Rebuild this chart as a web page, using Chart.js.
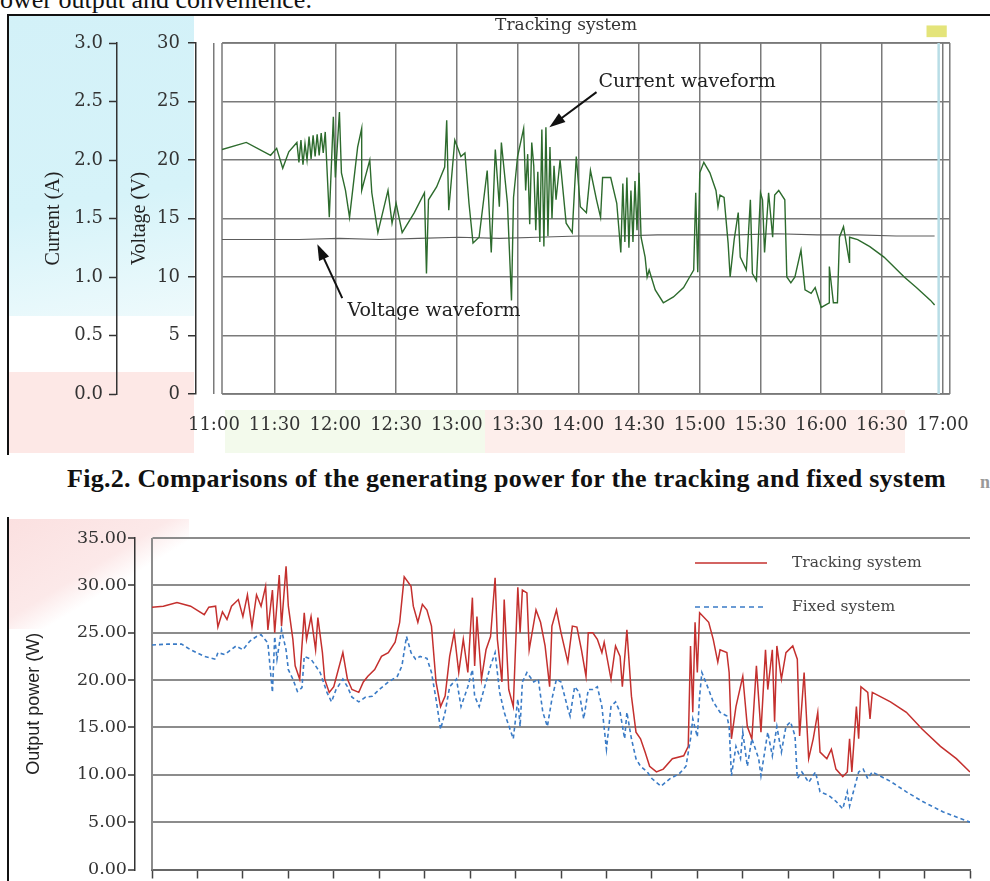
<!DOCTYPE html>
<html>
<head>
<meta charset="utf-8">
<title>Tracking system</title>
<script src="https://cdn.jsdelivr.net/npm/chart.js@4.4.1/dist/chart.umd.min.js"></script>
<style>
  html, body { margin: 0; padding: 0; background: #fff; overflow: hidden; }
  body { position: relative; width: 990px; height: 881px; font-family: "Liberation Serif", "Times New Roman", serif; }
  .patch { position: absolute; }
  #lead { position: absolute; left: 0; top: -13px; font-size: 26px; line-height: 26px; white-space: nowrap; color: #111; }
  #box1 { position: absolute; left: 7px; top: 14px; width: 983px; height: 439px; border-left: 2px solid #111; border-top: 2px solid #111; }
  #box2 { position: absolute; left: 7px; top: 517px; width: 983px; height: 364px; border-left: 2px solid #111; }
  #caption { position: absolute; left: 67px; top: 466px; font-size: 26px; line-height: 26px; letter-spacing: 0.28px; font-weight: bold; white-space: nowrap; color: #111; }
  #edge { position: absolute; left: 980px; top: 472px; font-size: 18px; font-weight: bold; color: #999; }
  canvas { position: absolute; }
  #top { left: 9px; top: 16px; }
  #bottom { left: 9px; top: 518px; }
</style>
</head>
<body>
<div class="patch" style="left:9px;top:16px;width:185px;height:300px;background:linear-gradient(170deg,#d3f1f8 0%,#d6f3f9 60%,#eefafc 100%);"></div>
<div class="patch" style="left:9px;top:372px;width:185px;height:81px;background:#fde8e6;"></div>
<div class="patch" style="left:225px;top:410px;width:260px;height:43px;background:#f3faec;"></div>
<div class="patch" style="left:485px;top:410px;width:420px;height:43px;background:#fdeeeb;"></div>
<div class="patch" style="left:9px;top:519px;width:180px;height:110px;background:linear-gradient(to bottom right,#fbe0e0 0%,#fce9e9 45%,rgba(255,255,255,0) 60%);"></div>

<div id="lead">ower output and convenience.</div>
<div id="box1"></div>
<div id="box2"></div>
<div id="caption">Fig.2. Comparisons of the generating power for the tracking and fixed system</div>
<div id="edge">n:</div>

<canvas id="top" width="981" height="436"></canvas>
<canvas id="bottom" width="981" height="363"></canvas>

<script>
// ---- upper panel: tracking system current / voltage ----
const clockTicks = ['11:00', '11:30', '12:00', '12:30', '13:00', '13:30', '14:00',
  '14:30', '15:00', '15:30', '16:00', '16:30', '17:00'];

const currentTime = [
  '11:04', '11:16', '11:28', '11:31', '11:34', '11:37', '11:41', '11:42', '11:43', '11:44',
  '11:45', '11:46', '11:47', '11:48', '11:49', '11:50', '11:51', '11:52', '11:53', '11:54',
  '11:55', '11:57', '11:59', '12:00', '12:02', '12:03', '12:05', '12:07', '12:11', '12:13',
  '12:13', '12:17', '12:18', '12:21', '12:26', '12:28', '12:30', '12:33', '12:39', '12:44',
  '12:45', '12:46', '12:50', '12:54', '12:55', '12:56', '12:59', '13:02', '13:04', '13:06',
  '13:08', '13:11', '13:15', '13:17', '13:19', '13:21', '13:22', '13:25', '13:27', '13:28',
  '13:30', '13:33', '13:34', '13:35', '13:36', '13:37', '13:38', '13:39', '13:40', '13:41',
  '13:42', '13:43', '13:44', '13:45', '13:46', '13:47', '13:48', '13:49', '13:51', '13:54',
  '13:57', '13:59', '14:01', '14:04', '14:06', '14:09', '14:11', '14:12', '14:16', '14:19',
  '14:21', '14:22', '14:23', '14:24', '14:25', '14:26', '14:27', '14:28', '14:29', '14:30',
  '14:31', '14:33', '14:34', '14:35', '14:38', '14:42', '14:47', '14:52', '14:55', '14:57',
  '14:58', '14:59', '15:00', '15:02', '15:05', '15:08', '15:09', '15:10', '15:12', '15:14',
  '15:15', '15:17', '15:19', '15:20', '15:23', '15:25', '15:26', '15:28', '15:30', '15:31',
  '15:32', '15:34', '15:36', '15:37', '15:39', '15:42', '15:43', '15:45', '15:47', '15:50',
  '15:52', '15:55', '15:57', '16:00', '16:04', '16:04', '16:06', '16:08', '16:09', '16:11',
  '16:14', '16:14', '16:18', '16:24', '16:31', '16:34', '16:41', '16:47', '16:54', '16:56'];
const currentA = [
  2.09, 2.15, 2.04, 2.10, 1.93, 2.07, 2.15, 1.98, 2.17, 1.96,
  2.14, 2.00, 2.20, 2.01, 2.21, 2.03, 2.22, 2.04, 2.23, 2.06,
  2.24, 1.51, 2.37, 1.85, 2.41, 1.89, 1.74, 1.51, 2.11, 2.27,
  1.74, 2.00, 1.72, 1.38, 1.74, 1.46, 1.63, 1.38, 1.55, 1.72,
  1.03, 1.66, 1.77, 1.94, 2.34, 1.57, 2.17, 2.03, 2.06, 1.63,
  1.29, 1.34, 1.91, 1.21, 2.09, 1.60, 2.15, 1.63, 0.80, 1.68,
  2.03, 2.27, 1.74, 2.05, 1.45, 2.15, 1.95, 1.40, 1.90, 1.30,
  2.26, 1.26, 2.28, 1.35, 2.11, 1.50, 1.95, 1.66, 2.00, 1.46,
  1.38, 2.03, 1.60, 1.55, 1.91, 1.66, 1.51, 1.85, 1.85, 1.63,
  1.21, 1.80, 1.30, 1.85, 1.25, 1.74, 1.30, 1.82, 1.40, 1.89,
  1.34, 1.17, 1.00, 1.06, 0.89, 0.78, 0.83, 0.91, 1.00, 1.06,
  1.72, 1.04, 1.89, 1.98, 1.89, 1.74, 1.60, 1.70, 1.68, 1.29,
  1.00, 1.32, 1.55, 1.17, 1.06, 1.66, 1.03, 0.97, 1.72, 1.66,
  1.21, 1.72, 1.34, 1.70, 1.74, 1.66, 1.00, 0.95, 1.00, 1.23,
  0.89, 0.86, 0.91, 0.74, 0.78, 1.09, 0.78, 0.78, 1.34, 1.43,
  1.12, 1.34, 1.32, 1.26, 1.17, 1.12, 1.00, 0.91, 0.80, 0.76];

const voltTime = ['11:04', '11:23', '11:42', '12:02', '12:22', '12:41', '13:01', '13:21', '13:40', '14:00',
  '14:20', '14:39', '14:59', '15:19', '15:38', '15:58', '16:18', '16:37', '16:56'];
const voltV = [13.2, 13.2, 13.2, 13.3, 13.2, 13.3, 13.4, 13.3, 13.4, 13.5,
  13.5, 13.6, 13.6, 13.6, 13.7, 13.6, 13.6, 13.5, 13.5];

// ---- lower panel: output power, tracking vs fixed ----
const trackTime = [
  '11:00', '11:05', '11:11', '11:17', '11:23', '11:25', '11:28', '11:29', '11:31', '11:33',
  '11:35', '11:38', '11:40', '11:42', '11:44', '11:46', '11:48', '11:50', '11:51', '11:53',
  '11:54', '11:56', '11:57', '11:59', '12:00', '12:02', '12:03', '12:05', '12:07', '12:08',
  '12:10', '12:12', '12:13', '12:15', '12:16', '12:18', '12:20', '12:24', '12:26', '12:28',
  '12:31', '12:33', '12:35', '12:38', '12:41', '12:44', '12:47', '12:49', '12:51', '12:54',
  '12:55', '12:57', '12:59', '13:01', '13:03', '13:05', '13:07', '13:09', '13:11', '13:13',
  '13:15', '13:17', '13:19', '13:21', '13:22', '13:23', '13:25', '13:27', '13:29', '13:31',
  '13:32', '13:34', '13:35', '13:37', '13:39', '13:41', '13:42', '13:43', '13:45', '13:46',
  '13:49', '13:51', '13:53', '13:55', '13:56', '13:58', '14:00', '14:03', '14:05', '14:07',
  '14:09', '14:11', '14:12', '14:14', '14:16', '14:18', '14:19', '14:22', '14:24', '14:26',
  '14:27', '14:29', '14:31', '14:33', '14:35', '14:37', '14:39', '14:42', '14:45', '14:49',
  '14:54', '14:56', '14:57', '14:58', '14:59', '15:00', '15:01', '15:05', '15:07', '15:09',
  '15:10', '15:13', '15:14', '15:15', '15:17', '15:20', '15:22', '15:24', '15:26', '15:28',
  '15:30', '15:31', '15:33', '15:34', '15:35', '15:37', '15:39', '15:42', '15:44', '15:45',
  '15:47', '15:49', '15:51', '15:53', '15:54', '15:57', '15:59', '16:01', '16:04', '16:06',
  '16:07', '16:08', '16:10', '16:11', '16:12', '16:15', '16:16', '16:17', '16:25', '16:32',
  '16:39', '16:47', '16:54', '17:00'];
const trackW = [
  27.7, 27.8, 28.2, 27.8, 26.9, 27.7, 27.8, 25.6, 27.2, 26.4,
  27.8, 28.5, 26.7, 29.0, 25.6, 29.0, 27.8, 29.9, 25.3, 29.5,
  25.0, 31.1, 25.7, 32.0, 27.8, 24.3, 21.5, 20.1, 27.1, 24.3,
  26.7, 23.2, 26.6, 22.9, 20.1, 18.7, 19.3, 22.9, 20.1, 19.0,
  18.7, 19.8, 20.4, 21.1, 22.5, 22.9, 24.0, 26.1, 30.9, 29.9,
  27.8, 26.1, 28.0, 27.4, 25.7, 19.8, 17.2, 18.3, 22.5, 25.0,
  20.8, 24.3, 20.8, 28.7, 21.5, 26.7, 20.1, 23.2, 24.6, 30.8,
  24.3, 19.8, 28.5, 19.0, 17.2, 29.8, 25.0, 29.5, 29.2, 23.2,
  27.4, 26.1, 23.6, 19.3, 25.7, 27.4, 25.0, 21.9, 25.7, 25.6,
  23.2, 20.4, 25.0, 25.0, 24.3, 22.9, 24.0, 20.1, 23.6, 22.5,
  19.3, 25.3, 18.3, 14.5, 13.8, 12.4, 10.9, 10.3, 10.6, 11.7,
  12.0, 13.0, 23.6, 16.6, 26.1, 20.8, 27.1, 26.1, 24.3, 21.9,
  23.2, 22.9, 20.8, 13.8, 17.2, 20.4, 15.1, 13.8, 21.5, 14.5,
  23.2, 19.0, 23.2, 15.6, 23.6, 20.1, 22.9, 23.6, 22.2, 14.1,
  20.8, 11.7, 13.8, 16.6, 12.4, 11.7, 12.7, 10.6, 9.8, 10.3,
  13.8, 10.3, 17.2, 13.8, 19.3, 18.7, 15.9, 18.7, 17.7, 16.6,
  14.8, 13.0, 11.7, 10.3];

const fixedTime = [
  '11:00', '11:07', '11:13', '11:17', '11:23', '11:28', '11:29', '11:32', '11:37', '11:40',
  '11:43', '11:46', '11:48', '11:51', '11:53', '11:54', '11:55', '11:57', '11:59', '12:00',
  '12:02', '12:04', '12:06', '12:07', '12:10', '12:12', '12:14', '12:17', '12:19', '12:21',
  '12:24', '12:26', '12:28', '12:31', '12:34', '12:37', '12:40', '12:44', '12:48', '12:50',
  '12:52', '12:54', '12:56', '12:58', '13:01', '13:03', '13:05', '13:07', '13:09', '13:11',
  '13:14', '13:16', '13:19', '13:21', '13:22', '13:24', '13:27', '13:29', '13:31', '13:33',
  '13:35', '13:38', '13:39', '13:41', '13:42', '13:43', '13:45', '13:48', '13:50', '13:52',
  '13:54', '13:56', '13:58', '14:00', '14:03', '14:04', '14:06', '14:08', '14:10', '14:12',
  '14:14', '14:16', '14:18', '14:20', '14:22', '14:24', '14:26', '14:28', '14:29', '14:31',
  '14:33', '14:35', '14:38', '14:40', '14:44', '14:48', '14:52', '14:55', '14:57', '14:58',
  '15:00', '15:01', '15:02', '15:05', '15:07', '15:10', '15:13', '15:14', '15:15', '15:17',
  '15:19', '15:20', '15:22', '15:24', '15:27', '15:28', '15:31', '15:33', '15:35', '15:37',
  '15:39', '15:41', '15:43', '15:44', '15:46', '15:49', '15:52', '15:54', '15:58', '16:01',
  '16:04', '16:06', '16:07', '16:09', '16:11', '16:13', '16:15', '16:17', '16:25', '16:32',
  '16:39', '16:48', '17:00'];
const fixedW = [
  23.7, 23.8, 23.8, 23.2, 22.5, 22.2, 22.9, 22.7, 23.6, 23.2,
  24.1, 24.6, 24.8, 23.9, 18.7, 24.6, 22.2, 25.3, 23.2, 21.1,
  20.1, 18.8, 19.2, 22.5, 22.2, 21.5, 20.8, 18.7, 17.7, 19.0,
  20.1, 19.3, 18.2, 17.7, 18.2, 18.3, 19.0, 19.8, 20.4, 21.5,
  24.6, 22.9, 22.2, 22.5, 22.3, 20.8, 18.0, 14.8, 16.6, 19.3,
  20.1, 17.2, 19.3, 21.1, 18.3, 17.2, 19.8, 21.5, 22.9, 18.7,
  16.6, 14.5, 13.8, 18.0, 15.1, 19.8, 20.8, 19.8, 20.1, 16.6,
  15.1, 18.0, 20.1, 19.8, 17.0, 16.2, 19.3, 18.7, 15.9, 19.0,
  19.0, 19.3, 17.2, 12.7, 17.2, 17.7, 16.6, 13.8, 16.6, 13.8,
  11.7, 10.9, 10.3, 9.6, 8.8, 9.6, 10.1, 10.9, 13.8, 15.9,
  14.0, 18.3, 20.8, 19.0, 17.7, 16.6, 16.2, 15.1, 9.9, 13.0,
  11.7, 14.5, 10.9, 13.8, 11.7, 9.9, 14.5, 12.0, 15.1, 12.4,
  15.1, 15.6, 14.1, 9.6, 10.3, 9.2, 10.3, 8.2, 7.8, 7.2,
  6.4, 8.2, 6.7, 8.5, 10.3, 10.6, 9.6, 10.3, 9.3, 8.2,
  7.2, 6.1, 5.0];

const toMin = t => { const [h, m] = t.split(':').map(Number); return (h - 11) * 60 + m; };
const clock = v => `${11 + Math.floor(v / 60)}:${String(v % 60).padStart(2, '0')}`;
const pts = (ts, vs) => ts.map((t, i) => ({ x: toMin(t), y: vs[i] }));

const serif = 'DejaVu Serif';
const times = 'Liberation Serif';

// move an axis line (and its ticks/labels) away from the plot box
const shiftAxes = {
  id: 'shiftAxes',
  afterLayout(chart, args, opts) {
    Object.entries(opts.by || {}).forEach(([id, dx]) => {
      const s = chart.scales[id];
      if (s) s.right += dx;
    });
  }
};

const frame = {
  id: 'frame',
  beforeDatasetsDraw(chart, args, o) {
    const { ctx, chartArea: a } = chart;
    ctx.save();
    ctx.strokeStyle = o.color;
    ctx.lineWidth = o.width;
    ctx.beginPath();
    if (o.sides.includes('l')) { ctx.moveTo(a.left, a.top); ctx.lineTo(a.left, a.bottom); }
    if (o.sides.includes('t')) { ctx.moveTo(a.left, a.top); ctx.lineTo(a.right, a.top); }
    if (o.sides.includes('r')) { ctx.moveTo(a.right, a.top); ctx.lineTo(a.right, a.bottom); }
    if (o.sides.includes('b')) { ctx.moveTo(a.left, a.bottom); ctx.lineTo(a.right, a.bottom); }
    ctx.stroke();
    ctx.restore();
  }
};

// labels, arrows and small marks placed in data units
const notes = {
  id: 'notes',
  beforeDatasetsDraw(chart, args, o) {
    const { ctx, chartArea: a, scales: { x } } = chart;
    ctx.save();
    (o.bands || []).forEach(b => {
      const px = x.getPixelForValue(b.at);
      ctx.strokeStyle = b.color; ctx.lineWidth = b.width;
      ctx.beginPath(); ctx.moveTo(px, a.top); ctx.lineTo(px, a.bottom); ctx.stroke();
    });
    ctx.restore();
  },
  afterDatasetsDraw(chart, args, o) {
    const { ctx, scales: { x, yV } } = chart;
    const px = v => x.getPixelForValue(v), py = v => yV.getPixelForValue(v);
    ctx.save();
    (o.boxes || []).forEach(b => {
      ctx.fillStyle = b.color;
      ctx.fillRect(px(b.x0), py(b.y0), px(b.x1) - px(b.x0), py(b.y1) - py(b.y0));
    });
    (o.texts || []).forEach(t => {
      ctx.font = `${t.size}px ${t.family}`;
      ctx.fillStyle = t.color;
      ctx.textAlign = t.align || 'left';
      ctx.textBaseline = 'alphabetic';
      ctx.fillText(t.text, px(t.x), py(t.y));
    });
    (o.arrows || []).forEach(ar => {
      const x1 = px(ar.from[0]), y1 = py(ar.from[1]);
      const x2 = px(ar.to[0]), y2 = py(ar.to[1]);
      const ang = Math.atan2(y2 - y1, x2 - x1), c = Math.cos(ang), s = Math.sin(ang);
      ctx.strokeStyle = ctx.fillStyle = '#111';
      ctx.lineWidth = 2;
      ctx.beginPath(); ctx.moveTo(x1, y1); ctx.lineTo(x2 - 10 * c, y2 - 10 * s); ctx.stroke();
      ctx.beginPath();
      ctx.moveTo(x2, y2);
      ctx.lineTo(x2 - 16 * c + 5.5 * s, y2 - 16 * s - 5.5 * c);
      ctx.lineTo(x2 - 16 * c - 5.5 * s, y2 - 16 * s + 5.5 * c);
      ctx.closePath(); ctx.fill();
    });
    ctx.restore();
  }
};

const key = {
  id: 'key',
  afterDraw(chart, args, o) {
    const { ctx, chartArea: a } = chart;
    ctx.save();
    ctx.font = `${o.size}px ${o.family}`;
    ctx.textBaseline = 'middle';
    ctx.textAlign = 'left';
    chart.data.datasets.forEach((ds, i) => {
      const y = a.top + o.top + i * o.gap;
      const x0 = a.right - o.right;
      ctx.strokeStyle = ds.borderColor;
      ctx.lineWidth = 1.5;
      ctx.setLineDash(ds.borderDash ? [5, 4] : []);
      ctx.beginPath(); ctx.moveTo(x0, y); ctx.lineTo(x0 + o.sample, y); ctx.stroke();
      ctx.setLineDash([]);
      ctx.fillStyle = o.color;
      ctx.fillText(ds.label, x0 + o.sample + o.space, y);
    });
    ctx.restore();
  }
};

new Chart(document.getElementById('top'), {
  type: 'line',
  data: {
    datasets: [
      { label: 'Current waveform', data: pts(currentTime, currentA), yAxisID: 'yA',
        borderColor: '#2d6b2d', borderWidth: 1.4 },
      { label: 'Voltage waveform', data: pts(voltTime, voltV), yAxisID: 'yV',
        borderColor: '#5c5c5c', borderWidth: 1.1 },
    ],
  },
  options: {
    responsive: false,
    animation: false,
    events: [],
    elements: { point: { radius: 0 }, line: { tension: 0 } },
    layout: { padding: { top: 27, right: 37, left: 0, bottom: 0 } },
    scales: {
      x: {
        type: 'linear', min: 4, max: 363.5,
        afterBuildTicks: s => { s.ticks = clockTicks.map(t => ({ value: toMin(t) })); },
        afterFit: s => { s.height = 58; },
        ticks: { autoSkip: false, maxRotation: 0, padding: 21, color: '#333',
          font: { family: serif, size: 18 }, callback: v => clock(v) },
        grid: { color: '#7a7a7a', lineWidth: 1.5, drawTicks: false },
        border: { display: false },
      },
      yA: {
        position: 'left', weight: 1, min: 0, max: 3,
        afterFit: s => { s.width = 108; },
        ticks: { stepSize: 0.5, padding: 6, color: '#333',
          font: { family: serif, size: 18 }, callback: v => v.toFixed(1) },
        grid: { drawOnChartArea: false, tickLength: 8, tickColor: '#333', tickWidth: 1.5 },
        border: { color: '#333', width: 1.5 },
        title: { display: true, text: 'Current (A)', color: '#222',
          font: { family: times, size: 20 }, padding: { top: 33, bottom: 0 } },
      },
      yV: {
        position: 'left', weight: 0, min: 0, max: 30,
        afterFit: s => { s.width = 105; },
        ticks: { stepSize: 5, padding: 8, color: '#333',
          font: { family: serif, size: 18 } },
        grid: { color: '#7a7a7a', lineWidth: 1.5, tickLength: 8, tickColor: '#333', tickWidth: 1.5 },
        border: { color: '#333', width: 1.5 },
        title: { display: true, text: 'Voltage (V)', color: '#222',
          font: { family: times, size: 20 }, padding: { top: 11, bottom: 0 } },
      },
    },
    plugins: {
      legend: { display: false },
      tooltip: { enabled: false },
      shiftAxes: { by: { yV: -26 } },
      frame: { sides: 'ltrb', color: '#7a7a7a', width: 1.5 },
      notes: {
        bands: [{ at: 358, color: '#b8dde6', width: 2.5 }],
        boxes: [{ x0: 352, y0: 31.5, x1: 362, y1: 30.5, color: '#e4e47a' }],
        texts: [
          { text: 'Tracking system', x: 174, y: 31.1, size: 17, family: serif, color: '#333', align: 'center' },
          { text: 'Current waveform', x: 190, y: 26.2, size: 19, family: serif, color: '#222' },
          { text: 'Voltage waveform', x: 66, y: 6.7, size: 19, family: serif, color: '#222' },
        ],
        arrows: [
          { from: [189, 25.8], to: [165.7, 22.8] },
          { from: [63.4, 8.2], to: [51.1, 12.8] },
        ],
      },
    },
  },
  plugins: [shiftAxes, frame, notes],
});

new Chart(document.getElementById('bottom'), {
  type: 'line',
  data: {
    datasets: [
      { label: 'Tracking system', data: pts(trackTime, trackW),
        borderColor: '#c4302e', borderWidth: 1.5, order: 1 },
      { label: 'Fixed system', data: pts(fixedTime, fixedW),
        borderColor: '#3a7bc6', borderWidth: 1.6, borderDash: [4, 3], order: 0 },
    ],
  },
  options: {
    responsive: false,
    animation: false,
    events: [],
    elements: { point: { radius: 0 }, line: { tension: 0 } },
    layout: { padding: { top: 20, right: 20, left: 0, bottom: 0 } },
    scales: {
      x: {
        type: 'linear', min: 0, max: 360,
        afterFit: s => { s.height = 11; },
        ticks: { stepSize: 20, display: false },
        grid: { drawOnChartArea: false, tickLength: 9, tickColor: '#444', tickWidth: 1.5 },
        border: { color: '#666', width: 2 },
      },
      y: {
        min: 0, max: 35,
        afterFit: s => { s.width = 143; },
        ticks: { stepSize: 5, padding: 1, color: '#333',
          font: { family: serif, size: 17.5 }, callback: v => v.toFixed(2) },
        grid: { color: '#8c8c8c', lineWidth: 2, tickLength: 7, tickColor: '#333', tickWidth: 1.5 },
        border: { color: '#333', width: 1.5 },
        title: { display: true, text: 'Output power (W)', color: '#222',
          font: { family: "'Liberation Sans Narrow', 'Liberation Sans', sans-serif", size: 18 },
          padding: { top: 14, bottom: 0 } },
      },
    },
    plugins: {
      legend: { display: false },
      tooltip: { enabled: false },
      shiftAxes: { by: { y: -17 } },
      frame: { sides: 'l', color: '#8c8c8c', width: 2 },
      key: { top: 25, gap: 44, right: 275, sample: 72, space: 25,
        size: 15.5, family: serif, color: '#444' },
    },
  },
  plugins: [shiftAxes, frame, key],
});
</script>
</body>
</html>
